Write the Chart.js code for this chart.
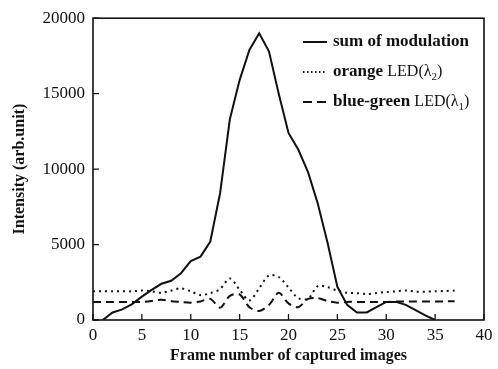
<!DOCTYPE html>
<html>
<head>
<meta charset="utf-8">
<script src="https://cdn.jsdelivr.net/npm/chart.js@4/dist/chart.umd.min.js"></script>
<style>
  html, body { margin: 0; padding: 0; background: #ffffff; }
  #wrap { width: 498px; height: 369px; }
</style>
</head>
<body>
<div id="wrap"><canvas id="c" width="498" height="369"></canvas></div>
<script>
// Frame indices for each series
const sumFrames = [1,2,3,4,5,6,7,8,9,10,11,12,13,14,15,16,17,18,19,20,21,22,23,24,25,26,27,28,29,30,31,32,33,34,35];
const ledFrames = [0,1,2,3,4,5,6,7,8,9,10,11,12,13,14,15,16,17,18,19,20,21,22,23,24,25,26,27,28,29,30,31,32,33,34,35,36,37];

// Intensity values (arb. unit)
const sumModulation = [0,500,700,1050,1550,2000,2400,2600,3100,3900,4200,5200,8400,13300,15900,17900,19000,17800,15000,12400,11300,9800,7700,5100,2200,1000,500,500,850,1200,1200,1000,650,300,0];
const orangeLED = [1900,1900,1900,1900,1900,1950,1900,1800,1950,2100,1900,1650,1780,2050,2750,2000,1300,2100,2950,2850,2150,1450,1400,2250,2180,1950,1800,1780,1720,1790,1850,1900,1950,1880,1880,1900,1920,1950];
const blueGreenLED = [1200,1200,1200,1200,1200,1200,1260,1350,1250,1200,1150,1230,1400,820,1600,1700,850,600,1000,1800,1100,850,1400,1450,1250,1150,1200,1200,1200,1200,1200,1220,1220,1220,1220,1230,1230,1250];

// Axis tick values
const xTicks = [0,5,10,15,20,25,30,35,40];
const yTicks = [0,5000,10000,15000,20000];

const seriesNames = ['sum of modulation', 'orange LED(λ2)', 'blue-green LED(λ1)'];

const SERIF = '"Liberation Serif", "Times New Roman", serif';
const INK = '#111111';

const toPoints = (xs, ys) => xs.map((x, i) => ({ x: x, y: ys[i] }));

// Inward tick marks and a closed frame around the plot area
const frameAndTicks = {
  id: 'frameAndTicks',
  afterDatasetsDraw(chart) {
    const { ctx, chartArea: a, scales } = chart;
    ctx.save();
    ctx.strokeStyle = INK;
    ctx.lineWidth = 1.6;
    ctx.strokeRect(a.left, a.top, a.right - a.left, a.bottom - a.top);
    ctx.lineWidth = 1.3;
    ctx.beginPath();
    xTicks.forEach(v => {
      const px = scales.x.getPixelForValue(v);
      ctx.moveTo(px, a.bottom);
      ctx.lineTo(px, a.bottom - 6);
    });
    yTicks.forEach(v => {
      const py = scales.y.getPixelForValue(v);
      ctx.moveTo(a.left, py);
      ctx.lineTo(a.left + 6, py);
    });
    ctx.stroke();
    ctx.restore();
  }
};

// Legend drawn inside the upper right of the plot
const insideLegend = {
  id: 'insideLegend',
  afterDraw(chart) {
    const { ctx } = chart;
    const rows = [
      { y: 42, ds: 0, sampleDash: [], label: ['sum of modulation', '', ''] },
      { y: 72, ds: 1, sampleDash: [1.5, 2.5], label: ['orange ', 'LED(λ', '2', ')'] },
      { y: 102, ds: 2, sampleDash: [9, 5], label: ['blue-green ', 'LED(λ', '1', ')'] }
    ];
    ctx.save();
    rows.forEach(r => {
      const ds = chart.data.datasets[r.ds];
      ctx.strokeStyle = ds.borderColor;
      ctx.lineWidth = 2;
      ctx.setLineDash(r.sampleDash);
      ctx.beginPath();
      ctx.moveTo(303, r.y);
      ctx.lineTo(327, r.y);
      ctx.stroke();
      ctx.setLineDash([]);
      ctx.fillStyle = INK;
      ctx.textBaseline = 'middle';
      let x = 333;
      ctx.font = 'bold 17px ' + SERIF;
      ctx.fillText(r.label[0], x, r.y);
      x += ctx.measureText(r.label[0]).width;
      if (r.label[1]) {
        ctx.font = '16px ' + SERIF;
        ctx.fillText(r.label[1], x, r.y);
        x += ctx.measureText(r.label[1]).width;
        ctx.font = '11px ' + SERIF;
        ctx.fillText(r.label[2], x, r.y + 5);
        x += ctx.measureText(r.label[2]).width;
        ctx.font = '16px ' + SERIF;
        ctx.fillText(r.label[3], x, r.y);
      }
    });
    ctx.restore();
  }
};

new Chart(document.getElementById('c'), {
  type: 'line',
  data: {
    datasets: [
      {
        label: seriesNames[0],
        data: toPoints(sumFrames, sumModulation),
        borderColor: INK,
        borderWidth: 2,
        pointRadius: 0,
        tension: 0
      },
      {
        label: seriesNames[1],
        data: toPoints(ledFrames, orangeLED),
        borderColor: INK,
        borderWidth: 2,
        borderDash: [2, 4],
        pointRadius: 0,
        tension: 0.3
      },
      {
        label: seriesNames[2],
        data: toPoints(ledFrames, blueGreenLED),
        borderColor: INK,
        borderWidth: 2,
        borderDash: [8, 5],
        pointRadius: 0,
        tension: 0.3
      }
    ]
  },
  options: {
    responsive: false,
    animation: false,
    layout: { padding: { left: 10, right: 14, top: 10, bottom: 3 } },
    plugins: { legend: { display: false }, tooltip: { enabled: false } },
    scales: {
      x: {
        type: 'linear',
        min: 0,
        max: 40,
        afterBuildTicks: s => { s.ticks = xTicks.map(v => ({ value: v })); },
        afterFit: s => { s.height = 46; },
        grid: { display: false, drawTicks: false },
        border: { display: false },
        ticks: { color: INK, padding: 5, font: { family: SERIF, size: 17 }, callback: v => String(v) },
        title: {
          display: true,
          text: 'Frame number of captured images',
          color: INK,
          padding: { top: 0, bottom: 1 },
          font: { family: SERIF, size: 16, weight: 'bold' }
        }
      },
      y: {
        type: 'linear',
        min: 0,
        max: 20000,
        afterBuildTicks: s => { s.ticks = yTicks.map(v => ({ value: v })); },
        afterFit: s => { s.width = 83; },
        grid: { display: false, drawTicks: false },
        border: { display: false },
        ticks: { color: INK, padding: 8, font: { family: SERIF, size: 17 }, callback: v => String(v) },
        title: {
          display: true,
          text: 'Intensity (arb.unit)',
          color: INK,
          padding: { top: 0, bottom: 0 },
          font: { family: SERIF, size: 16, weight: 'bold' }
        }
      }
    }
  },
  plugins: [frameAndTicks, insideLegend]
});
</script>
</body>
</html>
